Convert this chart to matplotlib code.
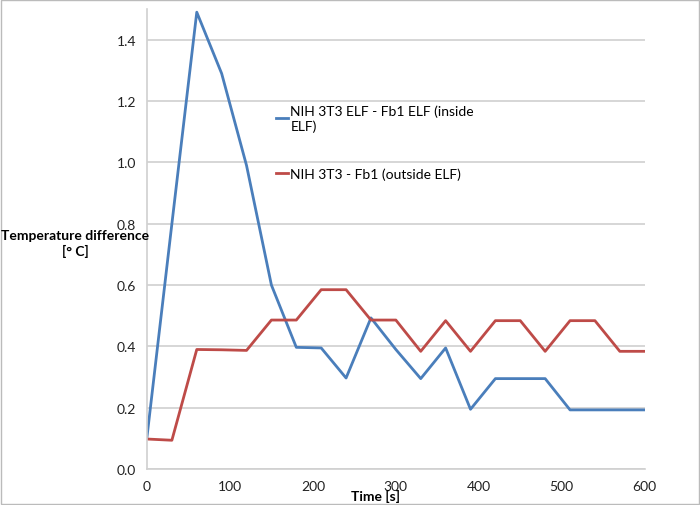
import numpy as np
import matplotlib.pyplot as plt

plt.rcParams['font.family'] = ['Lato', 'DejaVu Sans']

time_s = [0, 30, 60, 90, 120, 150, 180, 210, 240, 270, 300,
          330, 360, 390, 420, 450, 480, 510, 540, 570, 600]
inside_elf = [0.105, 0.80, 1.49, 1.29, 0.99, 0.60, 0.397, 0.395, 0.297, 0.493, 0.39,
              0.295, 0.395, 0.195, 0.295, 0.295, 0.295, 0.193, 0.193, 0.193, 0.193]
outside_elf = [0.098, 0.094, 0.39, 0.389, 0.387, 0.486, 0.486, 0.585, 0.585, 0.486, 0.486,
               0.384, 0.484, 0.384, 0.484, 0.484, 0.384, 0.484, 0.484, 0.384, 0.384]

fig = plt.figure(figsize=(7, 5.06), dpi=100)
ax = fig.add_axes([0.21, 0.071, 0.711, 0.909])

ax.plot(time_s, inside_elf, color='#4a7ebb', lw=2, label='NIH 3T3 ELF - Fb1 ELF (inside\nELF)')
ax.plot(time_s, outside_elf, color='#be4b48', lw=2, label='NIH 3T3 - Fb1 (outside ELF)')

ax.set_xlim(0, 600)
ax.set_ylim(0, 1.5)
ax.set_xticks(np.arange(0, 601, 100))
ax.set_yticks(np.arange(0, 1.41, 0.2))
ax.set_yticklabels(['%.1f' % v for v in np.arange(0, 1.41, 0.2)])
ax.tick_params(length=0, labelsize=10, colors='#222222', pad=8)
ax.grid(axis='y', color='#d0d0d0', lw=1.2)
ax.set_axisbelow(True)
for s in ['top', 'right']:
    ax.spines[s].set_visible(False)
for s in ['left', 'bottom']:
    ax.spines[s].set_color('#d0d0d0')
    ax.spines[s].set_linewidth(1.2)

fig.text(0.107, 0.518, 'Temperature difference\n[° C]', ha='center', va='center',
         fontsize=10, fontweight='bold', linespacing=1.3)
fig.text(0.536, 0.018, 'Time [s]', ha='center', va='center', fontsize=10, fontweight='bold')

ax.legend(loc='upper left', bbox_to_anchor=(0.235, 0.82), frameon=False, fontsize=10,
          handlelength=0.8, handletextpad=0.2, labelspacing=2.6)

fig.patches.append(plt.Rectangle((0.001, 0.001), 0.998, 0.998, transform=fig.transFigure,
                                 fill=False, edgecolor='#bbbbbb', lw=1))

fig.savefig('out.png')
